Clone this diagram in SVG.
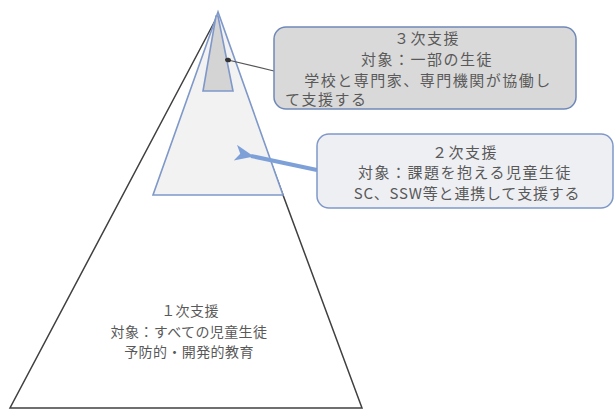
<svg xmlns="http://www.w3.org/2000/svg" width="616" height="410" viewBox="0 0 616 410">
<style>
text{font-family:"Noto Sans CJK JP","Noto Sans",sans-serif;fill:#595959}
.t1{font-size:14px;letter-spacing:0.4px}
.tb{font-size:15px;letter-spacing:1.5px}
.blue{stroke:#7f98c9;stroke-width:1.6}
</style>
<defs>
<marker id="dot" markerWidth="6" markerHeight="6" refX="3" refY="3" orient="auto" markerUnits="userSpaceOnUse"><ellipse cx="3" cy="3" rx="3" ry="2.2" fill="#333"/></marker>
<marker id="ah" markerWidth="20" markerHeight="16" refX="3" refY="8" orient="auto" markerUnits="userSpaceOnUse"><path d="M0,8 L19,0 L14,8 L19,16 Z" fill="#7ea0d8"/></marker>
</defs>
<rect width="616" height="410" fill="#fff"/>
<g id="level1">
<path d="M217,17 L10,408 L362,408 Z" fill="#fff" stroke="#404040" stroke-width="1.5"/>
<text class="t1" x="190" y="316" text-anchor="middle">１次支援</text>
<text class="t1" x="189" y="337" text-anchor="middle">対象：すべての児童生徒</text>
<text class="t1" x="189" y="357" text-anchor="middle">予防的・開発的教育</text>
</g>
<g id="level2">
<path d="M218,12 L153,195 L283,195 Z" fill="#f2f2f2" class="blue"/>
</g>
<g id="level3">
<path d="M216,16 L218,16 L233,91 L203,91 Z" fill="#d4d4d4" class="blue"/>
</g>
<g id="connectors">
<line x1="274" y1="71" x2="228" y2="60" stroke="#555" stroke-width="1.2" marker-end="url(#dot)"/>
<line x1="317" y1="170" x2="251" y2="156" stroke="#7ea0d8" stroke-width="4" marker-end="url(#ah)"/>
</g>
<g id="box3">
<rect x="274" y="27" width="302" height="82" rx="12" fill="#d9d9d9" stroke="#7088b8" stroke-width="1.5"/>
<text class="tb" x="427" y="44" text-anchor="middle">３次支援</text>
<text class="tb" x="427" y="65" text-anchor="middle">対象：一部の生徒</text>
<text class="tb" x="428" y="86" text-anchor="middle">学校と専門家、専門機関が協働し</text>
<text class="tb" x="285" y="105">て支援する</text>
</g>
<g id="box2">
<rect x="317" y="134" width="296" height="74" rx="12" fill="#eeeff3" stroke="#7f98c9" stroke-width="1.5"/>
<text class="tb" x="465" y="158" text-anchor="middle">２次支援</text>
<text class="tb" x="465" y="178" text-anchor="middle">対象：課題を抱える児童生徒</text>
<text class="tb" x="467" y="199" text-anchor="middle" style="letter-spacing:0.8px">SC、SSW等と連携して支援する</text>
</g>
</svg>
